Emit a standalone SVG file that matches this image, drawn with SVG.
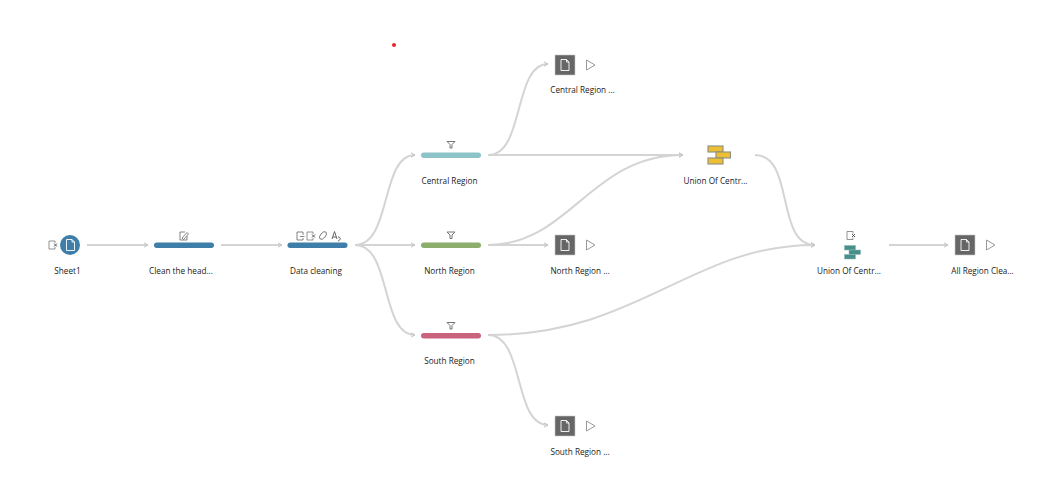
<svg xmlns="http://www.w3.org/2000/svg" width="1040" height="485" viewBox="0 0 1040 485">
<style>
text{font-family:"Open Sans","Noto Sans","Liberation Sans",sans-serif;font-size:8.2px;fill:#222;text-anchor:middle}
.c{fill:none;stroke:#d4d4d4;stroke-width:2}
.i{fill:#fff;stroke:#666;stroke-width:.8}
.d{fill:#666;stroke:#c8c8c8;stroke-width:.6}
.p{fill:#fff;stroke:#999;stroke-width:1}
.f{fill:none;stroke:#fff;stroke-width:.9}
.fn{fill:#fff;stroke:#666;stroke-width:.9}
.y{fill:#edc034;stroke:#8c8c80;stroke-width:1.1}
.t{fill:#478f8b;stroke:#8fb8b5;stroke-width:.5}
</style>
<defs>
<marker id="a" markerUnits="userSpaceOnUse" markerWidth="6" markerHeight="6" refX="5" refY="3" orient="auto"><path d="M1 .8L5 3L1 5.2" fill="none" stroke="#c4c4c4" stroke-width="1"/></marker>
<path id="doc" d="M-4-5.500H1.500L4-3V5.500H-4Z M1.500-5.500V-3H4"/>
<path id="fnl" d="M-4-3.500H4L1-.5V3H-1V-.5Z"/>
<g id="out"><rect class="d" x="-10" y="-10" width="20" height="20"/><use href="#doc" class="f"/><path class="p" d="M21.500-5V5L30 0Z"/></g>
<g id="ex"><path d="M2-2V-4H-4V4H2V2" fill="#fff" stroke="#777" stroke-width=".8"/><path d="M1-1.500L4 1.500M4-1.500L1 1.500" stroke="#444" stroke-width=".9"/></g>
</defs>

<g id="connectors">
<path class="c" marker-end="url(#a)" d="M87 245H148"/>
<path class="c" marker-end="url(#a)" d="M221 245H282"/>
<path class="c" marker-end="url(#a)" d="M355 245C392 245 380 155 415 155"/>
<path class="c" marker-end="url(#a)" d="M355 245H415"/>
<path class="c" marker-end="url(#a)" d="M355 245C392 245 380 335 415 335"/>
<path class="c" marker-end="url(#a)" d="M488 155C525 155 513 64 548 64"/>
<path class="c" marker-end="url(#a)" d="M488 155H683"/>
<path class="c" marker-end="url(#a)" d="M488 245C570 245 590 155 683 155"/>
<path class="c" marker-end="url(#a)" d="M488 245H548"/>
<path class="c" marker-end="url(#a)" d="M488 335C640 335 690 245 815 245"/>
<path class="c" marker-end="url(#a)" d="M488 335C525 335 513 425 548 425"/>
<path class="c" marker-end="url(#a)" d="M755 155C795 155 775 245 815 245"/>
<path class="c" marker-end="url(#a)" d="M889 245H948"/>
</g>

<g id="sheet1"><use href="#ex" x="53" y="245"/><circle cx="70" cy="245" r="10" fill="#3f7ea8"/><use href="#doc" x="70.500" y="245" class="f"/><text x="67.500" y="273.500">Sheet1</text></g>

<g id="clean"><path d="M187 236V240H180V232H185" fill="none" stroke="#666" stroke-width=".8"/><path d="M182 238L187 232.500L188.500 234L183.500 239.500Z" class="i"/><rect x="154" y="242.500" width="60" height="5.500" rx="2.750" fill="#3f7ea8"/><text x="181" y="273.500">Clean the head...</text></g>

<g id="datacleaning"><rect x="287.500" y="242.500" width="60" height="5.500" rx="2.750" fill="#3f7ea8"/>
<g transform="translate(300 236)"><path d="M3 -1V-4H-3V4H3V2" class="i"/><path d="M0 .5H4.500" stroke="#666" stroke-width=".8"/></g>
<use href="#ex" x="311" y="236"/>
<ellipse cx="323" cy="235.500" rx="2.500" ry="4.500" transform="rotate(40 323 235.500)" class="i"/>
<path d="M332 239L334.500 231.500L337 239M333 237H336M338 237C341 237 341 240 338 241" fill="none" stroke="#555" stroke-width=".9"/>
<text x="316" y="273.500">Data cleaning</text></g>

<g id="central"><use href="#fnl" x="451" y="145" class="fn"/><rect x="421" y="152.500" width="60" height="5.500" rx="2.750" fill="#8cc4ca"/><text x="449.500" y="183.500">Central Region</text></g>
<g id="north"><use href="#fnl" x="451" y="235.500" class="fn"/><rect x="421" y="242.500" width="60" height="5.500" rx="2.750" fill="#8bae6c"/><text x="449.500" y="273.500">North Region</text></g>
<g id="south"><use href="#fnl" x="451" y="326" class="fn"/><rect x="421" y="333" width="60" height="5.500" rx="2.750" fill="#c9637e"/><text x="449.500" y="363.500">South Region</text></g>

<g id="out-central"><use href="#out" x="565" y="65"/><text x="582.500" y="92.500">Central Region ...</text></g>
<g id="out-north"><use href="#out" x="565" y="245"/><text x="580" y="273.500">North Region ...</text></g>
<g id="out-south"><use href="#out" x="565" y="426"/><text x="580" y="454.500">South Region ...</text></g>

<g id="union1"><rect class="y" x="708" y="146" width="15" height="6"/><rect class="y" x="716" y="152" width="14.500" height="6"/><rect class="y" x="708" y="158" width="15" height="6"/><text x="715.500" y="183.500">Union Of Centr...</text></g>

<g id="union2"><use href="#ex" x="851" y="235.500"/><rect class="t" x="844.500" y="245.500" width="11" height="4.500"/><rect class="t" x="849" y="250" width="11.500" height="4.500"/><rect class="t" x="844.500" y="254.500" width="11" height="4.500"/><text x="849" y="273.500">Union Of Centr...</text></g>

<g id="all"><use href="#out" x="965" y="245"/><text x="982.500" y="273.500">All Region Clea...</text></g>

<circle id="dot" cx="394" cy="45" r="2" fill="#e8262a"/>
</svg>
